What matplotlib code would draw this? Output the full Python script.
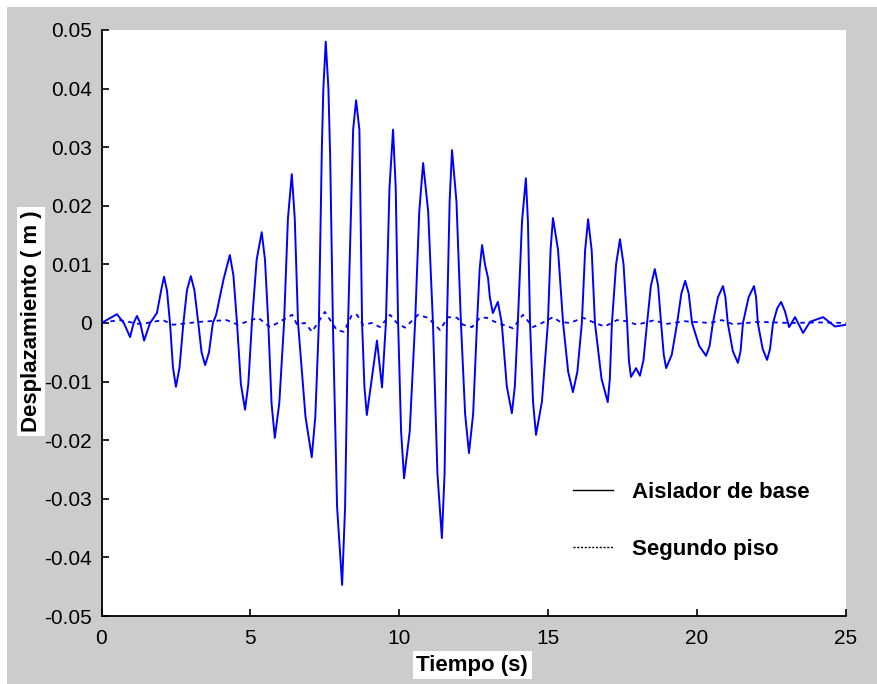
import numpy as np
import matplotlib
matplotlib.use('Agg')
import matplotlib.pyplot as plt
from matplotlib.lines import Line2D
from matplotlib.patches import Rectangle

# Aislador de base: values (peaks, shoulders, zero crossings)
t_base = [0.0, 0.52, 0.75, 0.96, 1.08, 1.19, 1.30, 1.43, 1.63, 1.86,
          2.02, 2.10, 2.20, 2.30, 2.40, 2.50, 2.62, 2.75, 2.87, 3.00, 3.12, 3.25,
          3.36, 3.48, 3.61, 3.74, 3.85, 4.10, 4.31, 4.43, 4.55, 4.68, 4.82, 4.93, 5.05,
          5.21, 5.38, 5.49, 5.60, 5.71, 5.82, 5.97, 6.13, 6.26, 6.39, 6.49, 6.60,
          6.85, 7.06, 7.18, 7.30, 7.40, 7.45, 7.53, 7.62, 7.68, 7.77,
          7.91, 8.08, 8.18, 8.28, 8.45, 8.55, 8.66, 8.75, 8.83, 8.91, 9.25, 9.42, 9.55,
          9.67, 9.79, 9.88, 9.96, 10.06, 10.16, 10.35, 10.53, 10.67, 10.80, 10.97, 11.13,
          11.28, 11.43, 11.52, 11.60, 11.69, 11.77, 11.92, 12.07, 12.21, 12.34, 12.48, 12.61,
          12.70, 12.78, 12.88, 12.98, 13.04, 13.14, 13.31, 13.44, 13.61, 13.78, 13.88, 13.98,
          14.12, 14.25, 14.32, 14.39, 14.49, 14.59, 14.79, 14.99, 15.08, 15.16, 15.33, 15.50,
          15.67, 15.83, 15.98, 16.13, 16.24, 16.34, 16.46, 16.57, 16.79, 17.00, 17.07, 17.14,
          17.28, 17.41, 17.53, 17.65, 17.71, 17.78, 17.95, 18.08, 18.20, 18.32,
          18.45, 18.58, 18.69, 18.79, 18.88, 18.96, 19.15, 19.33, 19.47, 19.60, 19.72, 19.83,
          20.07, 20.30, 20.42, 20.53, 20.70, 20.87, 20.95, 21.03, 21.20, 21.37, 21.46, 21.54,
          21.73, 21.91, 21.98, 22.04, 22.20, 22.35, 22.45, 22.55, 22.69, 22.82, 22.95,
          23.09, 23.29, 23.56, 23.79, 24.23, 24.63, 25.0]
d_base = [0.0, 0.0015, 0.0, -0.0024, 0.0, 0.0012, 0.0, -0.0030, 0.0, 0.0017,
          0.0060, 0.0079, 0.0055, 0.0, -0.0076, -0.0109, -0.0076, 0.0, 0.0056, 0.0080, 0.0056, 0.0,
          -0.0050, -0.0072, -0.0050, 0.0, 0.0014, 0.0075, 0.0116, 0.0081, 0.0, -0.0104, -0.0148, -0.0104, 0.0,
          0.0108, 0.0155, 0.0108, 0.0, -0.0137, -0.0196, -0.0137, 0.0, 0.0178, 0.0254, 0.0178, 0.0,
          -0.0160, -0.0229, -0.0160, 0.0, 0.0300, 0.0400, 0.0480, 0.0400, 0.0280, 0.0,
          -0.0313, -0.0447, -0.0313, 0.0, 0.0330, 0.0380, 0.0330, 0.0, -0.0110, -0.0157, -0.0030, -0.0110, 0.0,
          0.0230, 0.0330, 0.0230, 0.0, -0.0185, -0.0265, -0.0185, 0.0, 0.0190, 0.0273, 0.0190, 0.0,
          -0.0257, -0.0367, -0.0257, 0.0, 0.0207, 0.0295, 0.0207, 0.0, -0.0155, -0.0222, -0.0155, 0.0,
          0.0093, 0.0133, 0.0099, 0.0077, 0.0044, 0.0017, 0.0036, 0.0, -0.0108, -0.0154, -0.0108, 0.0,
          0.0173, 0.0247, 0.0173, 0.0, -0.0134, -0.0191, -0.0134, 0.0, 0.0125, 0.0179, 0.0125, 0.0,
          -0.0083, -0.0118, -0.0083, 0.0, 0.0124, 0.0177, 0.0124, 0.0, -0.0095, -0.0135, -0.0095, 0.0,
          0.0100, 0.0143, 0.0100, 0.0, -0.0064, -0.0092, -0.0077, -0.0090, -0.0063, 0.0,
          0.0064, 0.0092, 0.0064, 0.0, -0.0054, -0.0077, -0.0054, 0.0, 0.0050, 0.0072, 0.0050, 0.0,
          -0.0039, -0.0056, -0.0039, 0.0, 0.0044, 0.0063, 0.0044, 0.0, -0.0048, -0.0068, -0.0048, 0.0,
          0.0044, 0.0063, 0.0044, 0.0, -0.0044, -0.0063, -0.0044, 0.0, 0.0025, 0.0036, 0.0020,
          -0.0007, 0.0010, -0.0017, 0.0002, 0.0010, -0.0006, -0.0003]

# Segundo piso
t_piso = [0.0, 0.2, 0.6, 1.3, 2.06, 2.4, 3.3, 4.2, 4.58, 5.26, 5.66, 6.4, 6.56, 6.83,
          7.07, 7.5, 7.9, 8.14, 8.41, 8.58, 8.78, 9.08, 9.35, 9.69, 9.92, 10.19,
          10.63, 10.96, 11.37, 11.63, 11.94, 12.14, 12.44, 12.71, 12.94, 13.21,
          13.48, 13.82, 14.15, 14.49, 14.79, 15.16, 15.4, 15.73, 16.17, 16.57,
          16.9, 17.31, 17.64, 17.98, 18.58, 18.92, 19.59, 19.86, 20.43, 20.83,
          21.2, 22.1, 23.1, 24.1, 25.0]
d_piso = [0.0, 0.0002, 0.0005, -0.0002, 0.0005, -0.0003, 0.0002, 0.0005, -0.0003, 0.0009,
          -0.0007, 0.0014, -0.0002, 0.0, -0.0015, 0.0019, -0.0012, -0.0015, 0.0014,
          0.0014, -0.0003, 0.0, -0.0007, 0.0014, 0.0, -0.0008, 0.0014, 0.0009,
          -0.0012, 0.0010, 0.0009, -0.0003, -0.0007, 0.0009, 0.0009, 0.0002,
          -0.0003, -0.0009, 0.0014, -0.0007, 0.0, 0.0010, 0.0002, 0.0, 0.0009, 0.0,
          -0.0006, 0.0005, 0.0003, -0.0003, 0.0005, -0.0002, 0.0003, 0.0002, 0.0,
          0.0005, -0.0002, 0.0002, 0.0, 0.0001, 0.0]

labels = ['Aislador de base', 'Segundo piso']
x_ticks = [0, 5, 10, 15, 20, 25]
y_ticks = [-0.05, -0.04, -0.03, -0.02, -0.01, 0, 0.01, 0.02, 0.03, 0.04, 0.05]
y_ticklabels = ['-0.05', '-0.04', '-0.03', '-0.02', '-0.01', '0',
                '0.01', '0.02', '0.03', '0.04', '0.05']

plt.rcParams['font.family'] = ['Liberation Sans', 'DejaVu Sans']

W, H = 877, 684
fig = plt.figure(figsize=(W / 100, H / 100), dpi=100, facecolor='white')
fig.patches.append(Rectangle((7 / W, 0), 1, (H - 7) / H, transform=fig.transFigure,
                             facecolor='#cccccc', edgecolor='none', zorder=-10))

ax = fig.add_axes([101.5 / W, 1 - 616 / H, 744.5 / W, 586 / H])
ax.set_facecolor('white')

ax.plot(t_base, d_base, color='#0000ff', linewidth=1.4)
ax.plot(t_piso, d_piso, color='#0000ff', linewidth=1.3, dashes=(2.5, 2.5))

ax.set_xlim(0, 25)
ax.set_ylim(-0.05, 0.05)
ax.set_xticks(x_ticks)
ax.set_xticklabels([str(v) for v in x_ticks])
ax.set_yticks(y_ticks)
ax.set_yticklabels(y_ticklabels)
ax.tick_params(direction='in', length=5, width=1.2, labelsize=15, colors='black')
ax.tick_params(axis='y', pad=7)
ax.tick_params(axis='x', pad=9)

for side in ['top', 'right']:
    ax.spines[side].set_visible(False)
for side in ['left', 'bottom']:
    ax.spines[side].set_linewidth(1.3)

ax.set_ylabel('Desplazamiento ( m )', fontsize=16, fontweight='bold',
              bbox=dict(facecolor='white', edgecolor='none', pad=2.5))
ax.yaxis.set_label_coords(-0.080, 0.5025)
ax.set_xlabel('Tiempo (s)', fontsize=16, fontweight='bold',
              bbox=dict(facecolor='white', edgecolor='none', pad=2.5))
ax.xaxis.set_label_coords(0.498, -0.066)

handles = [Line2D([], [], color='black', linewidth=1.0),
           Line2D([], [], color='black', linewidth=1.0, dashes=(1.5, 1.2))]
ax.legend(handles, labels, loc='upper left', bbox_to_anchor=(573 / W, 1 - 482 / H),
          bbox_transform=fig.transFigure, frameon=False, borderpad=0, borderaxespad=0,
          handlelength=1.8, handletextpad=0.85, labelspacing=1.6,
          prop={'size': 16, 'weight': 'bold'})

fig.savefig('out.png', dpi=100, facecolor=fig.get_facecolor())
